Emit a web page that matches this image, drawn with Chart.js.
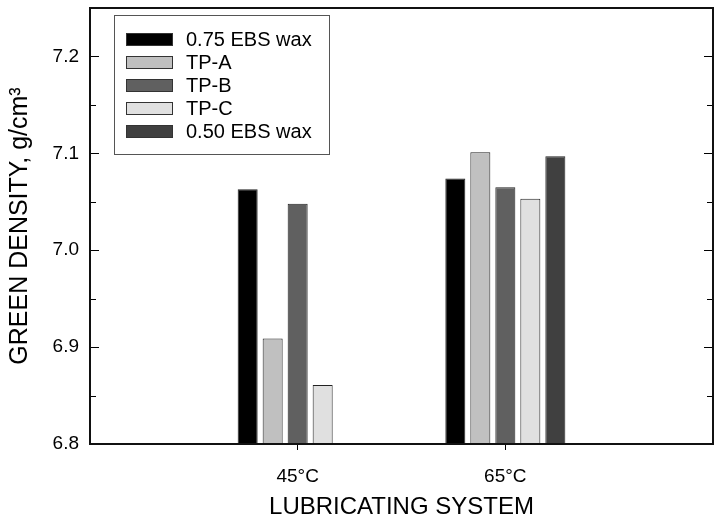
<!DOCTYPE html>
<html>
<head>
<meta charset="utf-8">
<script src="https://cdn.jsdelivr.net/npm/chart.js@4/dist/chart.umd.min.js"></script>
<style>
  html, body { margin: 0; padding: 0; background: #fff; }
  #wrap { width: 715px; height: 519px; }
</style>
</head>
<body>
<div id="wrap"><canvas id="densityChart" width="715" height="519"></canvas></div>
<script>
// lubricating systems on the x axis
const categories = ["45\u00B0C", "65\u00B0C"];

// series, green density in g/cm3
const seriesNames = ["0.75 EBS wax", "TP-A", "TP-B", "TP-C", "0.50 EBS wax"];
const ebs075 = [7.063, 7.074];
const tpA = [6.909, 7.101];
const tpB = [7.048, 7.065];
const tpC = [6.861, 7.053];
const ebs050 = [null, 7.097];

const yTicks = [6.8, 6.9, 7.0, 7.1, 7.2];
const yMin = 6.8;
const yMax = 7.25;

const fills = ["#000000", "#c0c0c0", "#606060", "#e0e0e0", "#404040"];
const FONT = "'Liberation Sans', Arial, Helvetica, sans-serif";

function toPoints(values) {
  return values.map((v, i) => ({ x: i + 1, y: v }));
}

const seriesValues = [ebs075, tpA, tpB, tpC, ebs050];

// frame, inward ticks and the boxed legend
const framePlugin = {
  id: "frame",
  afterDraw(chart) {
    const ctx = chart.ctx;
    const a = chart.chartArea;
    const y = chart.scales.y;
    ctx.save();
    ctx.strokeStyle = "#000";
    ctx.lineWidth = 1;
    yTicks.forEach((v, i) => {
      const py = Math.round(y.getPixelForValue(v)) + 0.5;
      if (i > 0) {
        ctx.beginPath();
        ctx.moveTo(a.left, py); ctx.lineTo(a.left + 9, py);
        ctx.moveTo(a.right, py); ctx.lineTo(a.right - 9, py);
        ctx.stroke();
      }
      if (i < yTicks.length - 1) {
        const pm = Math.round(y.getPixelForValue((v + yTicks[i + 1]) / 2)) + 0.5;
        ctx.beginPath();
        ctx.moveTo(a.left, pm); ctx.lineTo(a.left + 6, pm);
        ctx.moveTo(a.right, pm); ctx.lineTo(a.right - 6, pm);
        ctx.stroke();
      }
    });
    ctx.lineWidth = 2;
    ctx.strokeStyle = "#111";
    ctx.strokeRect(a.left, a.top, a.right - a.left, a.bottom - a.top);

    // legend
    const lx = a.left + 24, ly = a.top + 7, lw = 215, lh = 139;
    ctx.fillStyle = "#fff";
    ctx.fillRect(lx, ly, lw, lh);
    ctx.lineWidth = 1;
    ctx.strokeStyle = "#555";
    ctx.strokeRect(lx + 0.5, ly + 0.5, lw, lh);
    ctx.font = "20px " + FONT;
    ctx.textBaseline = "middle";
    chart.data.datasets.forEach((ds, i) => {
      const cy = ly + 24 + i * 23;
      ctx.fillStyle = ds.backgroundColor;
      ctx.fillRect(lx + 12, cy - 6, 47, 13);
      ctx.strokeStyle = "#333";
      ctx.strokeRect(lx + 12.5, cy - 5.5, 46, 12);
      ctx.fillStyle = "#000";
      ctx.fillText(ds.label, lx + 72, cy + 1);
    });
    ctx.restore();
  }
};

const ctx = document.getElementById("densityChart").getContext("2d");
new Chart(ctx, {
  type: "bar",
  data: {
    datasets: seriesNames.map((name, i) => ({
      label: name,
      data: toPoints(seriesValues[i]),
      backgroundColor: fills[i],
      borderColor: "#222",
      borderWidth: 1,
      base: yMin,
      categoryPercentage: 0.602,
      barPercentage: 0.8
    }))
  },
  options: {
    responsive: false,
    animation: false,
    layout: { padding: { top: 8, right: 2, left: 0, bottom: 0 } },
    plugins: {
      legend: { display: false },
      tooltip: { enabled: false }
    },
    scales: {
      x: {
        type: "linear",
        min: 0,
        max: categories.length + 1,
        offset: false,
        afterBuildTicks: (scale) => {
          scale.ticks = categories.map((c, i) => ({ value: i + 1 }));
        },
        afterFit: (scale) => {
          scale.height = 75;
          scale.paddingLeft = 0;
          scale.paddingRight = 0;
        },
        grid: {
          offset: false,
          drawOnChartArea: false,
          drawTicks: true,
          tickLength: 6,
          color: "#000"
        },
        border: { display: false },
        ticks: {
          padding: 15,
          color: "#000",
          font: { family: FONT, size: 19 },
          callback: (v) => categories[v - 1] || ""
        },
        title: {
          display: true,
          text: "LUBRICATING SYSTEM",
          color: "#000",
          font: { family: FONT, size: 24, lineHeight: 1 },
          padding: { top: 0, bottom: 0 }
        }
      },
      y: {
        min: yMin,
        max: yMax,
        afterBuildTicks: (scale) => {
          scale.ticks = yTicks.map((v) => ({ value: v }));
        },
        afterFit: (scale) => {
          scale.width = 90;
          scale.paddingTop = 0;
          scale.paddingBottom = 0;
        },
        grid: { display: false, drawTicks: false },
        border: { display: false },
        ticks: {
          padding: 11,
          color: "#000",
          font: { family: FONT, size: 19 },
          callback: (v) => v.toFixed(1)
        },
        title: {
          display: true,
          text: "GREEN DENSITY, g/cm\u00B3",
          color: "#000",
          font: { family: FONT, size: 25, lineHeight: 1 },
          padding: { top: 8, bottom: 0 }
        }
      }
    }
  },
  plugins: [framePlugin]
});
</script>
</body>
</html>
